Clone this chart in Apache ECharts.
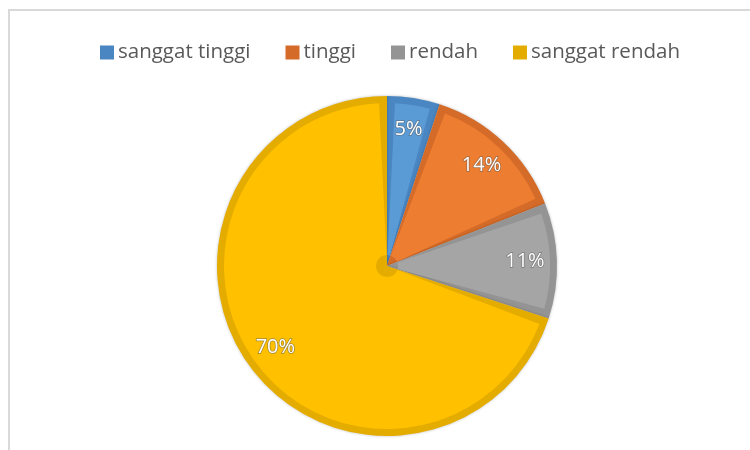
<!DOCTYPE html>
<html>
<head>
<meta charset="utf-8">
<script src="https://cdn.jsdelivr.net/npm/echarts@6/dist/echarts.min.js"></script>
<style>
  html, body { margin: 0; padding: 0; background: #fff; }
  #chart { width: 750px; height: 450px; }
</style>
</head>
<body>
<div id="chart"></div>
<script>
// data
var categories = ['sanggat tinggi', 'tinggi', 'rendah', 'sanggat rendah']
var values = [5, 14, 11, 70]
var lightColors = ['#5B9BD5', '#ED7D31', '#A5A5A5', '#FFC000']
var darkColors = ['#4A86C2', '#D56B28', '#949494', '#E5AC00']

var center = [387, 266]
var gapDeg = 2.8 // inset of the lighter fill inside each slice

function makeData (colors) {
  return categories.map(function (name, i) {
    return { name: name, value: values[i], itemStyle: { color: colors[i] } }
  })
}

// lighter fill: each slice shrunk by a small transparent gap on both sides
function makeInsetData () {
  var total = values.reduce(function (a, b) { return a + b }, 0)
  var out = []
  values.forEach(function (v, i) {
    var deg = v / total * 360
    out.push({ value: gapDeg, itemStyle: { color: 'rgba(0,0,0,0)' } })
    out.push({ name: categories[i], value: deg - 2 * gapDeg, itemStyle: { color: lightColors[i] } })
    out.push({ value: gapDeg, itemStyle: { color: 'rgba(0,0,0,0)' } })
  })
  return out
}

var myChart = echarts.init(document.getElementById('chart'))
var option = {
  backgroundColor: '#fff',
  animation: false,
  // frame lines like the original sheet
  graphic: [
    { type: 'rect', shape: { x: 8, y: 9, width: 742, height: 2 }, style: { fill: '#d9d9d9' } },
    { type: 'rect', shape: { x: 8, y: 9, width: 2, height: 441 }, style: { fill: '#d9d9d9' } }
  ],
  legend: {
    top: 37,
    left: 95,
    itemWidth: 14,
    itemHeight: 14,
    itemGap: 35,
    icon: 'rect',
    textStyle: { fontFamily: 'Open Sans', fontSize: 20.5, color: '#595959', padding: [0, 0, 0, -1] },
    data: categories
  },
  series: [
    {
      // darker band
      type: 'pie',
      center: center,
      radius: [0, 170],
      startAngle: 90,
      clockwise: true,
      silent: true,
      label: { show: false },
      labelLine: { show: false },
      itemStyle: { shadowBlur: 3, shadowColor: 'rgba(0,0,0,0.25)' },
      data: makeData(darkColors)
    },
    {
      // lighter inner fill
      type: 'pie',
      center: center,
      radius: [11, 163],
      startAngle: 90,
      clockwise: true,
      silent: true,
      avoidLabelOverlap: false,
      label: { show: false },
      labelLine: { show: false },
      data: makeInsetData()
    },
    {
      // labels
      type: 'pie',
      center: center,
      radius: [100, 170],
      startAngle: 90,
      clockwise: true,
      silent: true,
      itemStyle: { color: 'rgba(0,0,0,0)' },
      label: {
        show: true,
        position: 'inside',
        formatter: '{d}%',
        fontFamily: 'Open Sans',
        fontSize: 20,
        color: '#fff',
        textBorderColor: 'rgba(90,90,90,0.55)',
        textBorderWidth: 1.5
      },
      labelLine: { show: false },
      data: categories.map(function (name, i) { return { name: name, value: values[i] } })
    }
  ]
}
myChart.setOption(option)
</script>
</body>
</html>
